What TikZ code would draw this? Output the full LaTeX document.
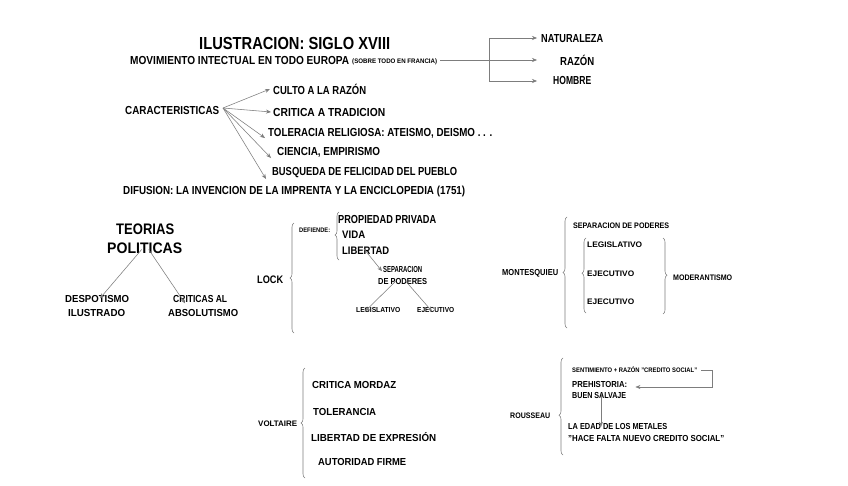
\documentclass[tikz,border=0pt]{standalone}
\usepackage{fontspec}
\usepackage{graphicx}
\setmainfont{Liberation Sans}
\usetikzlibrary{decorations.pathreplacing,arrows.meta}
\newcommand\tx[3]{\resizebox{#1pt}{#2pt}{\raisebox{0pt}[\fontcharht\font`H][0pt]{#3}}}
\definecolor{lg}{RGB}{125,125,125}
\tikzset{
  lbl/.style={anchor=west, inner sep=0pt, font=\bfseries},
  arr/.style={draw=lg, line width=0.55pt, -{Stealth[length=5pt,width=4pt,fill=lg]}},
  ln/.style={draw=lg, line width=0.55pt},
  brc/.style={draw=lg, line width=0.55pt, decorate, decoration={brace, amplitude=4pt, aspect=#1}},
  brc/.default=0.5
}
\begin{document}
\begin{tikzpicture}[x=1pt,y=-1pt]
\useasboundingbox[fill=white] (0,0) rectangle (848,485);

% header
\node[lbl] (title) at (199,43) {\tx{191}{12}{ILUSTRACION: SIGLO XVIII}};
\node[lbl] (mov) at (130,60) {\tx{219}{8}{MOVIMIENTO INTECTUAL EN TODO EUROPA}};
\node[lbl] (fr) at (352,61) {\tx{85}{4.5}{(SOBRE TODO EN FRANCIA)}};
\node[lbl] (nat) at (541,38) {\tx{62}{8}{NATURALEZA}};
\node[lbl] (raz) at (560,61) {\tx{34}{8}{RAZÓN}};
\node[lbl] (hom) at (553,80) {\tx{38}{8}{HOMBRE}};
\coordinate (bm) at (489,60);
\coordinate (bt) at (489,38);
\coordinate (bb) at (489,81);
\coordinate (tn) at (537,38);
\coordinate (tr) at (537,60);
\coordinate (th) at (537,81);
\draw[ln] ([xshift=3pt]fr.east |- bm) -- (bm);
\draw[arr] (bm) -- (tr);
\draw[arr] (bm) -- (bt) -- (tn);
\draw[arr] (bm) -- (bb) -- (th);

% caracteristicas
\node[lbl] (car) at (125,110) {\tx{94}{8}{CARACTERISTICAS}};
\node[lbl] (culto) at (273,90) {\tx{93}{8}{CULTO A LA RAZÓN}};
\node[lbl] (crit) at (273,112) {\tx{112}{8}{CRITICA A TRADICION}};
\node[lbl] (tol) at (268,132) {\tx{224}{8}{TOLERACIA RELIGIOSA: ATEISMO, DEISMO . . .}};
\node[lbl] (cien) at (277,151) {\tx{103}{8}{CIENCIA, EMPIRISMO}};
\node[lbl] (busq) at (272,171) {\tx{185}{8}{BUSQUEDA DE FELICIDAD DEL PUEBLO}};
\node[lbl] (dif) at (123,190) {\tx{342}{8}{DIFUSION: LA INVENCION DE LA IMPRENTA Y LA ENCICLOPEDIA (1751)}};
\coordinate (cs) at (223,108);
\draw[arr] (cs) -- ([xshift=-3pt,yshift=1pt]culto.west);
\draw[arr] (cs) -- ([xshift=-2pt]crit.west);
\draw[arr] (cs) -- ([xshift=-3pt,yshift=-6pt]tol.west);
\draw[arr] (cs) -- ([xshift=-6pt,yshift=-7pt]cien.west);
\draw[arr] (cs) -- ([xshift=-6pt,yshift=-8pt]busq.west);

% teorias politicas
\node[lbl] (teo) at (116,229) {\tx{58}{10.5}{TEORIAS}};
\node[lbl] (pol) at (107,248) {\tx{75}{10.5}{POLITICAS}};
\node[lbl] (desp) at (65,299) {\tx{64}{7}{DESPOTISMO}};
\node[lbl] (ilu) at (68,313) {\tx{57}{7}{ILUSTRADO}};
\node[lbl] (crial) at (173,299) {\tx{54}{7}{CRITICAS AL}};
\node[lbl] (abs) at (168,313) {\tx{70}{7}{ABSOLUTISMO}};
\draw[arr] ([xshift=-3pt,yshift=4pt]pol.south) -- ([xshift=35pt,yshift=-3pt]desp.north west);
\draw[arr] ([xshift=4pt,yshift=4pt]pol.south) -- ([xshift=12pt,yshift=-8pt]crial.north west);

% lock
\node[lbl] (lock) at (257,279.5) {\tx{26}{7.5}{LOCK}};
\coordinate (l1b) at (294,333);
\coordinate (l1t) at (294,223);
\draw[brc] (l1b) -- (l1t);
\node[lbl] (def) at (299,230) {\tx{31}{4.5}{DEFIENDE:}};
\coordinate (l2b) at (339,260);
\coordinate (l2t) at (339,212);
\draw[brc=0.52] (l2b) -- (l2t);
\node[lbl] (prop) at (338,219) {\tx{98}{8}{PROPIEDAD PRIVADA}};
\node[lbl] (vida) at (342,234.5) {\tx{23}{7.5}{VIDA}};
\node[lbl] (lib) at (342,251) {\tx{47}{7.5}{LIBERTAD}};
\node[lbl] (sep1) at (383,269) {\tx{39}{6}{SEPARACION}};
\node[lbl] (sep2) at (378,281) {\tx{49}{6}{DE PODERES}};
\node[lbl] (leg) at (356,310) {\tx{44}{5}{LEGISLATIVO}};
\node[lbl] (eje) at (417,310) {\tx{37}{5}{EJECUTIVO}};
\draw[arr] ([xshift=22pt,yshift=6pt]lib.south west) -- ([xshift=-1pt,yshift=1pt]sep1.south west);
\draw[arr] ([xshift=-7pt,yshift=3pt]sep2.south) -- ([xshift=9pt,yshift=-4pt]leg.north west);
\draw[arr] ([xshift=3pt,yshift=3pt]sep2.south) -- ([xshift=15pt,yshift=-4pt]eje.north west);

% montesquieu
\node[lbl] (mon) at (502,272) {\tx{56}{6}{MONTESQUIEU}};
\coordinate (m1b) at (567,328);
\coordinate (m1t) at (567,217);
\draw[brc] (m1b) -- (m1t);
\node[lbl] (sepm) at (573,225.5) {\tx{96}{5.5}{SEPARACION DE PODERES}};
\coordinate (m2b) at (586,313);
\coordinate (m2t) at (586,238);
\draw[brc=0.53] (m2b) -- (m2t);
\node[lbl] (legm) at (587,244.5) {\tx{55}{5.5}{LEGISLATIVO}};
\node[lbl] (ejm1) at (587,273.5) {\tx{47}{5.5}{EJECUTIVO}};
\node[lbl] (ejm2) at (587,302) {\tx{47}{5.5}{EJECUTIVO}};
\coordinate (m3t) at (663,238);
\coordinate (m3b) at (663,314);
\draw[brc=0.49] (m3t) -- (m3b);
\node[lbl] (mod) at (673,277.5) {\tx{59}{5.5}{MODERANTISMO}};

% voltaire
\node[lbl] (vol) at (258,423.5) {\tx{39}{5.5}{VOLTAIRE}};
\coordinate (v1b) at (305,478);
\coordinate (v1t) at (305,368);
\draw[brc] (v1b) -- (v1t);
\node[lbl] (crm) at (312,385) {\tx{84}{7}{CRITICA MORDAZ}};
\node[lbl] (tolv) at (313,412) {\tx{63}{7}{TOLERANCIA}};
\node[lbl] (libv) at (311,437.5) {\tx{125}{7}{LIBERTAD DE EXPRESIÓN}};
\node[lbl] (aut) at (318,461.5) {\tx{88}{7}{AUTORIDAD FIRME}};

% rousseau
\node[lbl] (rou) at (510,415.5) {\tx{40}{5.5}{ROUSSEAU}};
\coordinate (r1b) at (563,455);
\coordinate (r1t) at (563,358);
\draw[brc=0.41] (r1b) -- (r1t);
\node[lbl] (sent) at (572,370) {\tx{125}{4.5}{SENTIMIENTO + RAZÓN "CREDITO SOCIAL"}};
\node[lbl] (pre) at (572,384) {\tx{55}{6}{PREHISTORIA:}};
\node[lbl] (buen) at (572,395) {\tx{54}{6}{BUEN SALVAJE}};
\node[lbl] (edad) at (568,426) {\tx{99}{6}{LA EDAD DE LOS METALES}};
\node[lbl] (hace) at (568,438) {\tx{156}{6}{"HACE FALTA NUEVO CREDITO SOCIAL"}};
\coordinate (rc1) at (712,370);
\coordinate (rc2) at (712,387);
\draw[arr] ([xshift=4pt]sent.east) -- (rc1) -- (rc2) -- ([xshift=8pt]pre.east |- rc2);
\draw[arr] ([xshift=29pt,yshift=4pt]buen.south west) -- ([xshift=33pt,yshift=-4pt]edad.north west);

\end{tikzpicture}
\end{document}
